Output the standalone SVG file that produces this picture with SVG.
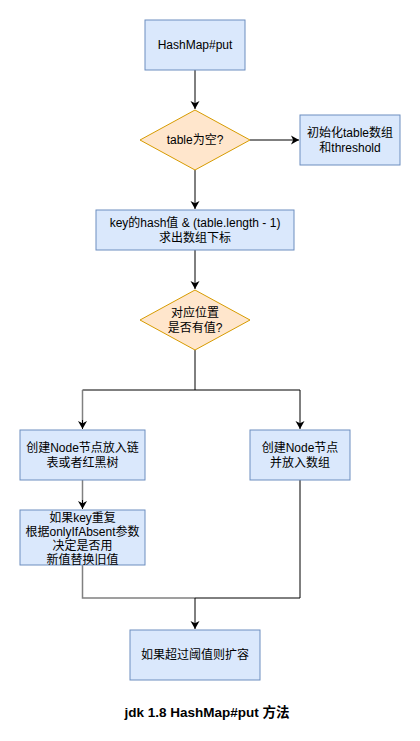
<svg xmlns="http://www.w3.org/2000/svg" width="420" height="741" viewBox="0 0 420 741">
<defs>
<marker id="arr" markerWidth="8" markerHeight="10" viewBox="0 0 8 10" refX="8" refY="5" orient="auto" markerUnits="userSpaceOnUse">
<path d="M0,0.5 L8,5 L0,9.5 L2.2,5 Z" fill="#000"/>
</marker>
</defs>
<style>
.box{fill:#dae8fc;stroke:#6c8ebf;stroke-width:1}
.dia{fill:#ffe6cc;stroke:#d79b00;stroke-width:1}
.t{font-family:"Liberation Sans","Noto Sans CJK SC",sans-serif;font-size:12px;fill:#000;text-anchor:middle}
.ln{fill:none;stroke:#000;stroke-width:1}
.lg{fill:none;stroke:#808080;stroke-width:1.5}
.title{font-family:"Liberation Sans","Noto Sans CJK SC",sans-serif;font-size:13.5px;font-weight:bold;fill:#000;text-anchor:middle}
</style>
<rect width="420" height="741" fill="#fff"/>
<g id="connectors">
<path class="ln" d="M195,70 V109" marker-end="url(#arr)"/>
<path class="ln" d="M250,140 H299" marker-end="url(#arr)"/>
<path class="ln" d="M195,170 V209" marker-end="url(#arr)"/>
<path class="ln" d="M195,250 V289" marker-end="url(#arr)"/>
<path class="ln" d="M195,350 V390 H82.5"/>
<path class="lg" d="M82.5,390 V422"/>
<path class="ln" d="M82.5,420 V429" marker-end="url(#arr)"/>
<path class="ln" d="M195,390 H300 V429" marker-end="url(#arr)"/>
<path class="lg" d="M82.5,480 V502"/>
<path class="ln" d="M82.5,500 V509" marker-end="url(#arr)"/>
<path class="lg" d="M82.5,565 V598 H195"/>
<path class="ln" d="M300,480 V598 H195 V629" marker-end="url(#arr)"/>
</g>
<g id="n1"><rect class="box" x="145" y="20" width="100" height="50"/><text class="t" x="195" y="49">HashMap#put</text></g>
<g id="n2"><path class="dia" d="M195,110 L250,140 L195,170 L140,140 Z"/><text class="t" x="195" y="144">table为空?</text></g>
<g id="n3"><rect class="box" x="300" y="115" width="100" height="50"/><text class="t" x="350" y="137">初始化table数组</text><text class="t" x="350" y="152">和threshold</text></g>
<g id="n4"><rect class="box" x="96" y="210" width="198" height="40"/><text class="t" x="195" y="227">key的hash值 &amp; (table.length - 1)</text><text class="t" x="195" y="242">求出数组下标</text></g>
<g id="n5"><path class="dia" d="M195,290 L250,320 L195,350 L140,320 Z"/><text class="t" x="195" y="317">对应位置</text><text class="t" x="195" y="332">是否有值?</text></g>
<g id="n6"><rect class="box" x="20" y="430" width="125" height="50"/><text class="t" x="82.5" y="452">创建Node节点放入链</text><text class="t" x="82.5" y="467">表或者红黑树</text></g>
<g id="n7"><rect class="box" x="250" y="430" width="100" height="50"/><text class="t" x="300" y="452">创建Node节点</text><text class="t" x="300" y="467">并放入数组</text></g>
<g id="n8"><rect class="box" x="20" y="510" width="125" height="55"/><text class="t" x="82.5" y="522">如果key重复</text><text class="t" x="82.5" y="536">根据onlyIfAbsent参数</text><text class="t" x="82.5" y="550">决定是否用</text><text class="t" x="82.5" y="564">新值替换旧值</text></g>
<g id="n9"><rect class="box" x="130" y="630" width="130" height="50"/><text class="t" x="195" y="659">如果超过阈值则扩容</text></g>
<g id="title"><text class="title" x="207" y="717">jdk 1.8 HashMap#put 方法</text></g>
</svg>
